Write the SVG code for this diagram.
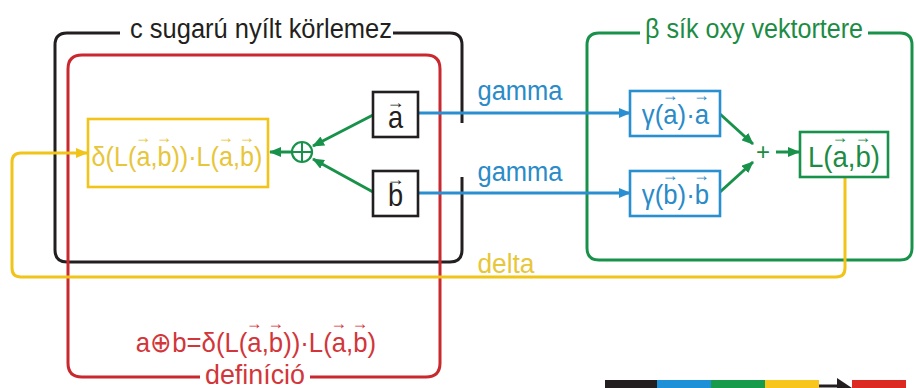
<svg xmlns="http://www.w3.org/2000/svg" width="916" height="388" viewBox="0 0 916 388">
  <defs>
    <style>
      .t { font-family: "Liberation Sans", Arial, sans-serif; }
      .v { font-size: 18px; font-weight: bold; }
      .frame { fill: none; stroke-width: 3; stroke-linejoin: round; }
      .box { fill: #ffffff; stroke-width: 2.6; }
      .k { stroke: #231f20; }
      .r { stroke: #c8282e; }
      .g { stroke: #18924a; }
      .b { stroke: #2a8fd0; }
      .y { stroke: #f0c419; }
      .conn { fill: none; stroke-width: 3; }
    </style>
    <marker id="ahGreen" viewBox="0 0 12 10" refX="11" refY="5" markerWidth="12" markerHeight="10" markerUnits="userSpaceOnUse" orient="auto">
      <path d="M0,0 L12,5 L0,10 z" fill="#18924a"/>
    </marker>
    <marker id="ahBlue" viewBox="0 0 12 10" refX="11" refY="5" markerWidth="12" markerHeight="10" markerUnits="userSpaceOnUse" orient="auto">
      <path d="M0,0 L12,5 L0,10 z" fill="#2a8fd0"/>
    </marker>
    <marker id="ahYellow" viewBox="0 0 12 10" refX="11" refY="5" markerWidth="12" markerHeight="10" markerUnits="userSpaceOnUse" orient="auto">
      <path d="M0,0 L12,5 L0,10 z" fill="#f0c419"/>
    </marker>
  </defs>

  <rect width="916" height="388" fill="#ffffff"/>

  <!-- open disc of radius c (black frame, broken on the right) -->
  <g id="disc">
    <path class="frame k" d="M120,33 H67 Q55,33 55,45 V250 Q55,262 67,262 H450 Q462,262 462,250 V177"/>
    <path class="frame k" d="M393,33 H450 Q462,33 462,45 V123"/>
    <text class="t" x="261" y="38" font-size="27" fill="#231f20" text-anchor="middle" textLength="262" lengthAdjust="spacingAndGlyphs">c sugarú nyílt körlemez</text>
  </g>

  <!-- vector space of plane beta (green frame) -->
  <g id="plane">
    <path class="frame g" d="M640,33 H599 Q587,33 587,45 V248 Q587,260 599,260 H900 Q912,260 912,248 V45 Q912,33 900,33 H868"/>
    <text class="t" x="754" y="38" font-size="27" fill="#1c8c44" text-anchor="middle" textLength="218" lengthAdjust="spacingAndGlyphs">β sík oxy vektortere</text>
  </g>

  <!-- definition (red frame) -->
  <g id="definition">
    <path class="frame r" d="M200,377 H82 Q68,377 68,363 V69 Q68,55 82,55 H426 Q440,55 440,69 V363 Q440,377 426,377 H310"/>
    <text class="t" x="255" y="384" font-size="27" fill="#d2363a" text-anchor="middle" textLength="100" lengthAdjust="spacingAndGlyphs">definíció</text>
    <text class="t" transform="translate(256,352) scale(0.92,1)" x="0" y="0" font-size="28" fill="#d2363a" text-anchor="middle">a⊕b=δ(L(<tspan class="v" dx="-1.22" dy="-23">→</tspan><tspan dx="-16.78" dy="23">a</tspan>,<tspan class="v" dx="-1.22" dy="-23">→</tspan><tspan dx="-16.78" dy="23">b</tspan>))·L(<tspan class="v" dx="-1.22" dy="-23">→</tspan><tspan dx="-16.78" dy="23">a</tspan>,<tspan class="v" dx="-1.22" dy="-23">→</tspan><tspan dx="-16.78" dy="23">b</tspan>)</text>
  </g>

  <!-- connectors -->
  <g id="connectors">
    <path class="conn y" d="M845,178 V268 Q845,277 836,277 H21 Q12,277 12,268 V162 Q12,153 21,153 H87" marker-end="url(#ahYellow)"/>
    <path class="conn b" d="M418,113 H630" marker-end="url(#ahBlue)"/>
    <path class="conn b" d="M418,193 H630" marker-end="url(#ahBlue)"/>
    <path class="conn g" d="M373,115 L313,146" marker-end="url(#ahGreen)"/>
    <path class="conn g" d="M373,192 L313,159" marker-end="url(#ahGreen)"/>
    <path class="conn g" d="M291,152 H270" marker-end="url(#ahGreen)"/>
    <path class="conn g" d="M720,114 L753,144" marker-end="url(#ahGreen)"/>
    <path class="conn g" d="M720,192 L753,162" marker-end="url(#ahGreen)"/>
    <path class="conn g" d="M776,152 H799" marker-end="url(#ahGreen)"/>
    <text class="t" x="520" y="100" font-size="27" fill="#2a8bc8" text-anchor="middle" textLength="85" lengthAdjust="spacingAndGlyphs">gamma</text>
    <text class="t" x="520" y="181" font-size="27" fill="#2a8bc8" text-anchor="middle" textLength="85" lengthAdjust="spacingAndGlyphs">gamma</text>
    <text class="t" x="506" y="273" font-size="27" fill="#e8c63a" text-anchor="middle" textLength="57" lengthAdjust="spacingAndGlyphs">delta</text>
  </g>

  <g id="node-a">
    <rect class="box k" x="373" y="92" width="45" height="45"/>
    <text class="t" transform="translate(395.5,128) scale(0.85,1)" x="0" y="0" font-size="32" fill="#231f20" text-anchor="middle">a</text>
    <text class="t v" x="395.5" y="108" fill="#231f20" text-anchor="middle">→</text>
  </g>

  <g id="node-b">
    <rect class="box k" x="373" y="171" width="45" height="45"/>
    <text class="t" transform="translate(395.5,206) scale(0.85,1)" x="0" y="0" font-size="32" fill="#231f20" text-anchor="middle">b</text>
    <text class="t v" x="395.5" y="185" fill="#231f20" text-anchor="middle">→</text>
  </g>

  <g id="node-oplus">
    <circle cx="302" cy="152" r="10" fill="#ffffff" stroke="#18924a" stroke-width="2.2"/>
    <path d="M292,152 H312 M302,142 V162" stroke="#18924a" stroke-width="2"/>
  </g>

  <g id="node-result">
    <rect class="box y" x="88" y="119" width="180" height="68"/>
    <text class="t" transform="translate(177,166) scale(0.9,1)" x="0" y="0" font-size="28" fill="#e8c63a" text-anchor="middle">δ(L(<tspan class="v" dx="-1.22" dy="-23">→</tspan><tspan dx="-16.78" dy="23">a</tspan>,<tspan class="v" dx="-1.22" dy="-23">→</tspan><tspan dx="-16.78" dy="23">b</tspan>))·L(<tspan class="v" dx="-1.22" dy="-23">→</tspan><tspan dx="-16.78" dy="23">a</tspan>,<tspan class="v" dx="-1.22" dy="-23">→</tspan><tspan dx="-16.78" dy="23">b</tspan>)</text>
  </g>

  <g id="node-ga">
    <rect class="box b" x="630" y="91" width="90" height="45"/>
    <text class="t" transform="translate(676,124) scale(0.92,1)" x="0" y="0" font-size="28" fill="#2a8bc8" text-anchor="middle">γ(<tspan class="v" dx="-1.22" dy="-23">→</tspan><tspan dx="-16.78" dy="23">a</tspan>)·<tspan class="v" dx="-1.22" dy="-23">→</tspan><tspan dx="-16.78" dy="23">a</tspan></text>
  </g>

  <g id="node-gb">
    <rect class="box b" x="630" y="171" width="90" height="45"/>
    <text class="t" transform="translate(676,204) scale(0.92,1)" x="0" y="0" font-size="28" fill="#2a8bc8" text-anchor="middle">γ(<tspan class="v" dx="-1.22" dy="-23">→</tspan><tspan dx="-16.78" dy="23">b</tspan>)·<tspan class="v" dx="-1.22" dy="-23">→</tspan><tspan dx="-16.78" dy="23">b</tspan></text>
  </g>

  <g id="node-plus">
    <text class="t" x="763" y="160" font-size="24" fill="#1c8c44" text-anchor="middle">+</text>
  </g>

  <g id="node-L">
    <rect class="box g" x="800" y="132" width="88" height="45"/>
    <text class="t" transform="translate(844,167) scale(0.92,1)" x="0" y="0" font-size="30" fill="#1c8c44" text-anchor="middle">L(<tspan class="v" dx="-0.66" dy="-24">→</tspan><tspan dx="-17.34" dy="24">a</tspan>,<tspan class="v" dx="-0.66" dy="-24">→</tspan><tspan dx="-17.34" dy="24">b</tspan>)</text>
  </g>

  <!-- colour key strip -->
  <g id="key">
    <rect x="605" y="380" width="52" height="8" fill="#231f20"/>
    <rect x="657" y="380" width="54" height="8" fill="#1e90d8"/>
    <rect x="711" y="380" width="54" height="8" fill="#179a4a"/>
    <rect x="765" y="380" width="54" height="8" fill="#f7c51c"/>
    <path d="M819,386 H840" stroke="#231f20" stroke-width="3"/>
    <polygon points="837,378 852,388 837,398" fill="#231f20"/>
    <rect x="852" y="380" width="54" height="8" fill="#dc2a22"/>
  </g>
</svg>
